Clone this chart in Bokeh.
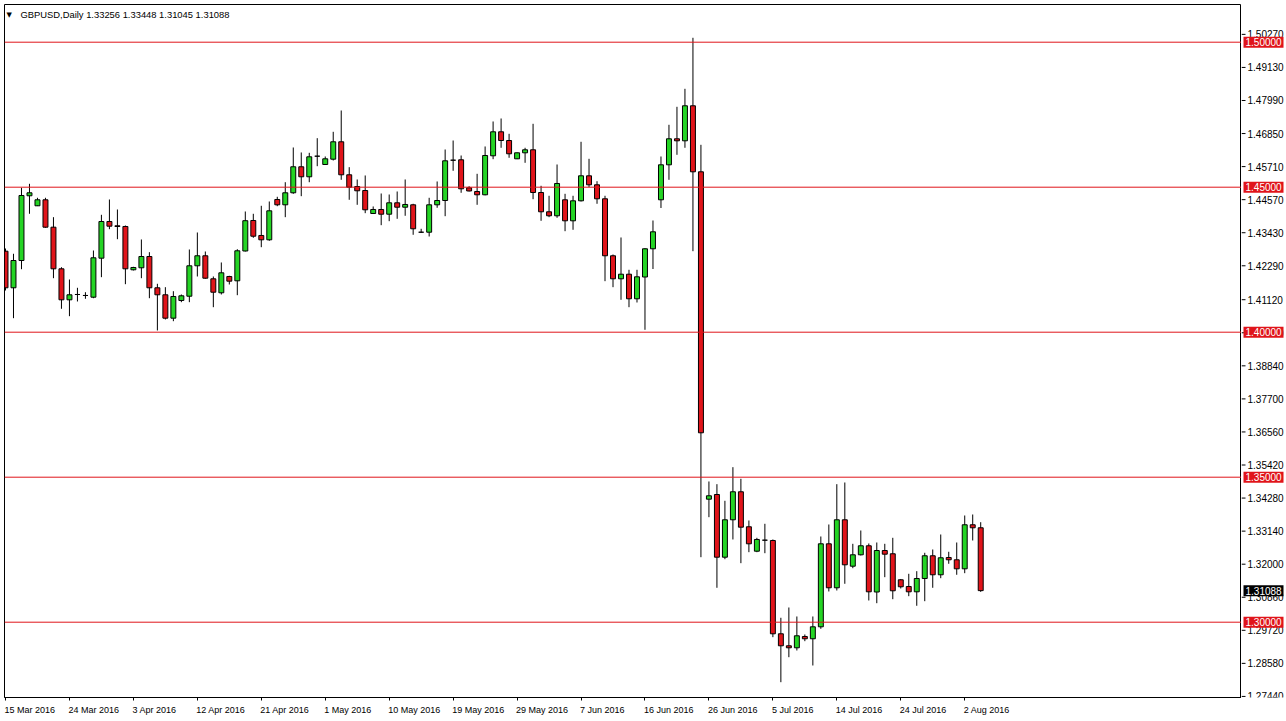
from bokeh.plotting import figure
from bokeh.layouts import row
from bokeh.models import Span, Label, FixedTicker, ColumnDataSource
from bokeh.core.properties import value
from bokeh.embed import file_html
from bokeh.resources import INLINE

title_text = "GBPUSD,Daily  1.33256 1.33448 1.31045 1.31088"

tick_labels = ["15 Mar 2016", "24 Mar 2016", "3 Apr 2016", "12 Apr 2016", "21 Apr 2016",
               "1 May 2016", "10 May 2016", "19 May 2016", "29 May 2016", "7 Jun 2016",
               "16 Jun 2016", "26 Jun 2016", "5 Jul 2016", "14 Jul 2016", "24 Jul 2016",
               "2 Aug 2016"]
tick_bars = [0, 8, 16, 24, 32, 40, 48, 56, 64, 72, 80, 88, 96, 104, 112, 120]

opens = [1.42793, 1.41531, 1.42472, 1.44704, 1.44359, 1.44566, 1.43621, 1.42186, 1.41117, 1.41300,
         1.41266, 1.41207, 1.42552, 1.43817, 1.43669, 1.43645, 1.42152, 1.42221, 1.42610, 1.41531,
         1.41290, 1.40483, 1.41093, 1.41241, 1.42290, 1.42635, 1.41841, 1.41359, 1.41921, 1.41772,
         1.42800, 1.43852, 1.43335, 1.43186, 1.44576, 1.44393, 1.44807, 1.45704, 1.45359, 1.46069,
         1.45783, 1.45966, 1.46566, 1.45428, 1.45024, 1.44886, 1.44093, 1.44231, 1.44069, 1.44462,
         1.44310, 1.44393, 1.43448, 1.43448, 1.44393, 1.44541, 1.45931, 1.45945, 1.44979, 1.44852,
         1.44738, 1.46083, 1.46910, 1.46610, 1.45979, 1.46186, 1.46290, 1.44817, 1.44152, 1.44014,
         1.44566, 1.43841, 1.44531, 1.45393, 1.45083, 1.44600, 1.42635, 1.41841, 1.42000, 1.41152,
         1.41903, 1.42876, 1.44566, 1.45772, 1.46669, 1.46600, 1.47807, 1.45531, 1.34241, 1.34403,
         1.32241, 1.33531, 1.34497, 1.33290, 1.32448, 1.32828, 1.32817, 1.29600, 1.29186, 1.29117,
         1.29507, 1.29428, 1.29841, 1.32703, 1.31186, 1.33531, 1.31931, 1.32324, 1.32635, 1.31041,
         1.32472, 1.32359, 1.31462, 1.31231, 1.31048, 1.31507, 1.32290, 1.31635, 1.32231, 1.32152,
         1.31841, 1.33359, 1.33256]
highs = [1.42886, 1.42704, 1.44979, 1.45117, 1.44635, 1.44635, 1.43966, 1.42241, 1.41817, 1.41531,
         1.41379, 1.42817, 1.44048, 1.44576, 1.44231, 1.43679, 1.42255, 1.43197, 1.42759, 1.41669,
         1.41552, 1.41414, 1.41300, 1.42852, 1.43438, 1.42783, 1.41921, 1.42404, 1.41945, 1.42862,
         1.44162, 1.44083, 1.44359, 1.44507, 1.44669, 1.45172, 1.46369, 1.46197, 1.46186, 1.46690,
         1.46059, 1.46910, 1.47645, 1.45690, 1.45266, 1.45404, 1.44335, 1.44783, 1.44748, 1.44852,
         1.45266, 1.44428, 1.43566, 1.44635, 1.45197, 1.46300, 1.46610, 1.46093, 1.45035, 1.45462,
         1.46404, 1.47266, 1.47369, 1.46841, 1.46197, 1.46359, 1.47186, 1.45048, 1.44704, 1.45783,
         1.44772, 1.44704, 1.46566, 1.45979, 1.45207, 1.44704, 1.42679, 1.43266, 1.42152, 1.42152,
         1.42897, 1.43852, 1.46059, 1.47152, 1.47772, 1.48393, 1.50152, 1.46462, 1.34852, 1.34759,
         1.34186, 1.35345, 1.34945, 1.33507, 1.32910, 1.33393, 1.32852, 1.30152, 1.30507, 1.30197,
         1.29576, 1.30197, 1.32955, 1.33369, 1.34759, 1.34817, 1.32703, 1.33162, 1.32714, 1.32748,
         1.32703, 1.32910, 1.31490, 1.31669, 1.31759, 1.32393, 1.32507, 1.33024, 1.32428, 1.32748,
         1.33679, 1.33714, 1.33448]
lows = [1.41438, 1.40483, 1.42172, 1.44083, 1.44350, 1.43600, 1.41862, 1.40807, 1.40552, 1.41059,
        1.41152, 1.41172, 1.41897, 1.43552, 1.43207, 1.41655, 1.42128, 1.41862, 1.41172, 1.40059,
        1.40438, 1.40379, 1.41035, 1.41035, 1.41921, 1.41841, 1.40862, 1.41300, 1.41645, 1.41276,
        1.42783, 1.43255, 1.42931, 1.43152, 1.44345, 1.43966, 1.44772, 1.44690, 1.45172, 1.45724,
        1.45772, 1.45921, 1.45255, 1.44566, 1.44393, 1.44104, 1.44083, 1.43690, 1.43828, 1.43910,
        1.44014, 1.43359, 1.43428, 1.43300, 1.44290, 1.44000, 1.45566, 1.44807, 1.44852, 1.44393,
        1.44720, 1.45966, 1.46359, 1.46014, 1.45970, 1.45841, 1.44586, 1.43841, 1.43966, 1.43945,
        1.43483, 1.43531, 1.44507, 1.45000, 1.44428, 1.41759, 1.41552, 1.41117, 1.40862, 1.41024,
        1.40083, 1.42179, 1.44283, 1.45255, 1.46117, 1.46359, 1.42793, 1.32241, 1.33621, 1.31186,
        1.32172, 1.32852, 1.32035, 1.32414, 1.32414, 1.32379, 1.29483, 1.27931, 1.28793, 1.29024,
        1.29345, 1.28507, 1.29772, 1.31059, 1.31093, 1.31324, 1.31862, 1.32300, 1.30748, 1.30655,
        1.31552, 1.30793, 1.31162, 1.30897, 1.30566, 1.30724, 1.31186, 1.31517, 1.32014, 1.31635,
        1.31690, 1.32817, 1.31045]
closes = [1.41531, 1.42472, 1.44714, 1.44807, 1.44566, 1.43621, 1.42186, 1.41117, 1.41290, 1.41300,
          1.41266, 1.42566, 1.43817, 1.43655, 1.43645, 1.42186, 1.42231, 1.42610, 1.41531, 1.41290,
          1.40483, 1.41231, 1.41255, 1.42290, 1.42635, 1.41862, 1.41379, 1.42048, 1.41759, 1.42807,
          1.43845, 1.43310, 1.43186, 1.44186, 1.44393, 1.44807, 1.45704, 1.45359, 1.46048, 1.46069,
          1.45979, 1.46566, 1.45428, 1.45000, 1.44876, 1.44221, 1.44231, 1.44069, 1.44462, 1.44310,
          1.44404, 1.43566, 1.43448, 1.44393, 1.44541, 1.45910, 1.45931, 1.44945, 1.44870, 1.44738,
          1.46093, 1.46910, 1.46610, 1.46152, 1.46186, 1.46290, 1.44817, 1.44152, 1.44014, 1.45128,
          1.43841, 1.44531, 1.45393, 1.45083, 1.44600, 1.42635, 1.41841, 1.42000, 1.41152, 1.41910,
          1.42876, 1.43462, 1.45772, 1.46669, 1.46600, 1.47807, 1.45531, 1.36531, 1.34359, 1.32241,
          1.33531, 1.34497, 1.33276, 1.32703, 1.32852, 1.32828, 1.29600, 1.29186, 1.29117, 1.29531,
          1.29428, 1.29841, 1.32703, 1.31186, 1.33531, 1.31979, 1.32324, 1.32635, 1.31048, 1.32472,
          1.32345, 1.31083, 1.31221, 1.31048, 1.31507, 1.32290, 1.31635, 1.32221, 1.32152, 1.31841,
          1.33359, 1.33255, 1.31088]

levels = [1.50, 1.45, 1.40, 1.35, 1.30]
price_ticks = [1.5027, 1.4913, 1.4799, 1.4685, 1.4571, 1.4457, 1.4343, 1.4229, 1.4112, 1.3998,
               1.3884, 1.3770, 1.3656, 1.3542, 1.3428, 1.3314, 1.3200, 1.3086, 1.2972, 1.2858,
               1.2744]
last_price = 1.31088

BULL = "#24d424"
BEAR = "#e0141a"
LEVEL = "#e0141a"
FONT = "Liberation Sans"

# ---------------------------------------------------------------- main chart
n = len(opens)
bars = list(range(n))
src = ColumnDataSource(dict(
    x=bars, o=opens, h=highs, l=lows, c=closes,
    top=[max(a, b) for a, b in zip(opens, closes)],
    bottom=[min(a, b) for a, b in zip(opens, closes)],
    color=[BULL if c >= o else BEAR for o, c in zip(opens, closes)],
))

FRAME_W, FRAME_H = 1237, 693
x_start, x_end = -0.125, 154.625
y_start, y_end = 1.27403, 1.51300

p = figure(frame_width=FRAME_W, frame_height=FRAME_H, x_range=(x_start, x_end),
           y_range=(y_start, y_end), output_backend="svg", toolbar_location=None,
           y_axis_location=None, min_border_left=4, min_border_top=4,
           min_border_right=0, min_border_bottom=0)
p.background_fill_color = "white"
p.border_fill_color = "white"
p.outline_line_color = "black"
p.outline_line_width = 1
p.xgrid.visible = False
p.ygrid.visible = False

for lv in levels:
    p.add_layout(Span(location=lv, dimension="width", line_color=LEVEL, line_width=1))

p.segment(x0="x", y0="h", x1="x", y1="l", source=src, line_color="black", line_width=1)
p.vbar(x="x", top="top", bottom="bottom", width=0.62, source=src,
       fill_color="color", line_color="black", line_width=1)

# date labels are left-aligned at their bar: place the (centred) label half its width to the right
ADV = {"0": 556, "1": 556, "2": 556, "3": 556, "4": 556, "5": 556, "6": 556, "7": 556, "8": 556,
       "9": 556, " ": 278, "M": 833, "a": 556, "r": 333, "A": 667, "p": 556, "y": 500, "J": 500,
       "u": 556, "n": 556, "l": 222, "g": 556}
XFS = 9.0
px_per_bar = FRAME_W / (x_end - x_start)
label_pos = [b + (sum(ADV.get(ch, 556) for ch in t) * XFS / 1000.0 / 2.0 - 1.0) / px_per_bar
             for b, t in zip(tick_bars, tick_labels)]

xa = p.xaxis[0]
xa.ticker = FixedTicker(ticks=label_pos, minor_ticks=tick_bars)
xa.major_label_overrides = {lp: t for lp, t in zip(label_pos, tick_labels)}
xa.major_label_text_font = FONT
xa.major_label_text_font_size = "9px"
xa.major_label_text_color = "black"
xa.major_label_standoff = 4
xa.major_tick_line_color = None
xa.major_tick_in = 0
xa.major_tick_out = 0
xa.minor_tick_line_color = "black"
xa.minor_tick_in = 0
xa.minor_tick_out = 3
xa.axis_line_color = "black"

p.add_layout(Label(x=x_start, y=y_end, x_offset=2, y_offset=-6, text="\u25BC", text_color="black",
                   text_font="DejaVu Sans", text_font_size="7px", text_baseline="top",
                   text_align="left"))
p.add_layout(Label(x=x_start, y=y_end, x_offset=16, y_offset=-4, text=title_text,
                   text_color="black", text_font=FONT, text_font_size="9.4px",
                   text_baseline="top", text_align="left"))

# ---------------------------------------------------------------- price scale (right strip)
STRIP_W = 44
s = figure(frame_width=STRIP_W, frame_height=FRAME_H, x_range=(0, STRIP_W), y_range=p.y_range,
           output_backend="svg", toolbar_location=None, x_axis_location=None,
           y_axis_location=None, min_border_left=0, min_border_right=0, min_border_top=4,
           min_border_bottom=17)
s.outline_line_color = None
s.background_fill_color = "white"
s.border_fill_color = "white"
s.xgrid.visible = False
s.ygrid.visible = False

s.segment(x0=0, x1=4, y0=price_ticks, y1=price_ticks, line_color="black", line_width=1)
s.text(x=6, y=price_ticks, text=["%.5f" % t for t in price_ticks], text_baseline="middle",
       text_align="left", text_font=value(FONT), text_font_size="10px", text_color="black")

s.rect(x=22, y=levels, width=40, height=11, height_units="screen",
       fill_color=LEVEL, line_color=None)
s.text(x=4, y=levels, text=["%.5f" % lv for lv in levels], text_baseline="middle",
       text_align="left", text_font=value(FONT), text_font_size="10px", text_color="white")

s.rect(x=22, y=[last_price], width=40, height=11, height_units="screen",
       fill_color="black", line_color=None)
s.text(x=4, y=[last_price], text=["%.5f" % last_price], text_baseline="middle",
       text_align="left", text_font=value(FONT), text_font_size="10px", text_color="white")

layout = row(p, s)
open("out.html", "w").write(file_html(layout, INLINE))
